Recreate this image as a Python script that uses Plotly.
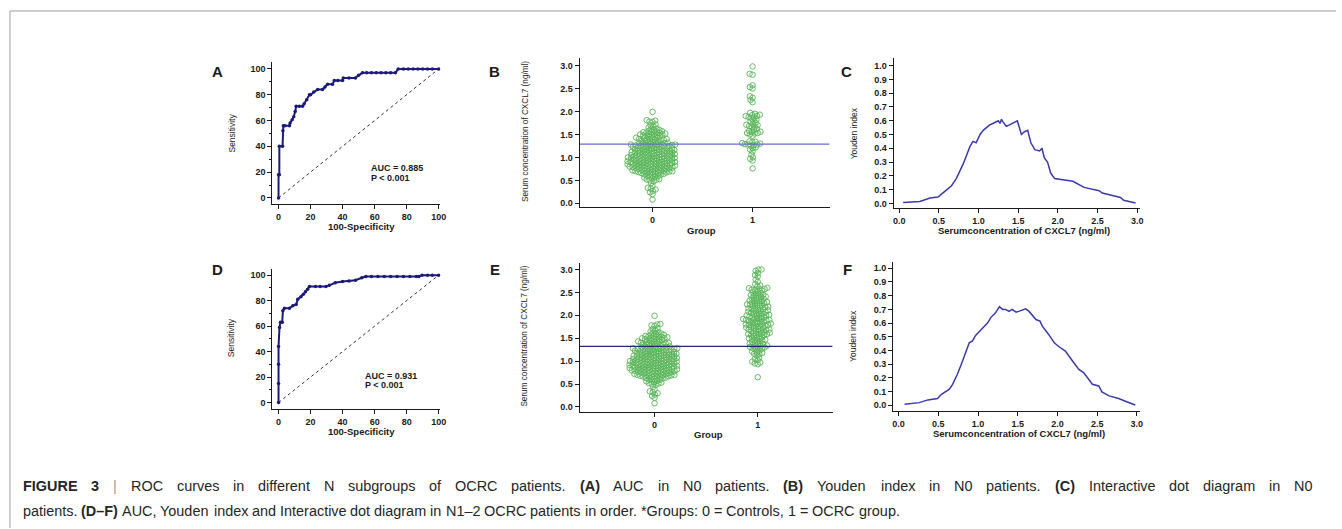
import plotly.graph_objects as go

W, H = 1342, 529

# ---------------- DATA ----------------
# ROC curve, N0 patients (panel A)
roc_a_fpr = [0, 0, 0.5, 0.5, 2.5, 2.7, 3, 4, 6.8, 7.2, 8.5, 9.5, 10.4, 11, 13, 15, 16, 17.6, 19.3, 20,
             22, 24.4, 27.5, 29, 30.6, 33.7, 34.8, 37, 40, 40.4, 44, 48, 50, 52.4, 55, 58, 61, 64,
             67, 70, 73, 74.7, 78, 81, 84, 87, 90, 93, 96, 100]
roc_a_tpr = [0, 18, 18, 40, 40, 52, 56, 56, 56, 58, 60.6, 63, 67, 71, 71, 71, 73, 76, 80, 80,
             82, 84, 84, 86, 88, 88, 91, 91, 91, 93, 93, 93, 95, 97, 97, 97, 97, 97,
             97, 97, 97, 100, 100, 100, 100, 100, 100, 100, 100, 100]
auc_a = "AUC = 0.885"
p_a = "P < 0.001"

# ROC curve, N1-2 patients (panel D)
roc_d_fpr = [0, 0, 0, 0, 0.6, 1.2, 2.3, 2.7, 3.7, 6.8, 8.9, 11, 12, 14, 15.5, 16.8, 18.2, 19.3, 23, 26,
             29.6, 31.7, 35.4, 40, 44, 48, 52, 54.5, 58, 62, 66, 70, 74, 78, 82, 86, 87.6,
             89.6, 93, 96, 100]
roc_d_tpr = [0, 15, 30, 44, 59, 63, 63, 72, 74, 74, 76, 77, 81, 83, 85, 87, 89, 91, 91, 91,
             91, 92, 94, 95, 95.5, 96, 98, 99, 99, 99, 99, 99, 99, 99, 99, 99, 99,
             100, 100, 100, 100]
auc_d = "AUC = 0.931"
p_d = "P < 0.001"

# Serum CXCL7 (ng/ml), controls (group 0)
controls = [
    0.08, 0.20, 0.24, 0.27, 0.30, 0.32, 0.34, 0.38, 0.44,
    0.48, 0.50, 0.51, 0.52, 0.53, 0.54,
    0.56, 0.57, 0.58, 0.59, 0.60, 0.61, 0.62, 0.63, 0.64, 0.64,
    0.65, 0.66, 0.66, 0.67, 0.67, 0.68, 0.68, 0.69, 0.69, 0.70, 0.70, 0.70, 0.71, 0.71, 0.72, 0.72,
    0.73, 0.73, 0.74, 0.74, 0.75, 0.75,
    0.76, 0.76, 0.77, 0.77, 0.78, 0.78, 0.78, 0.79, 0.79, 0.80, 0.80, 0.80, 0.81, 0.81, 0.82, 0.82,
    0.82, 0.83, 0.83, 0.84, 0.84, 0.85, 0.85, 0.85,
    0.86, 0.86, 0.87, 0.87, 0.88, 0.88, 0.88, 0.89, 0.89, 0.90, 0.90, 0.90, 0.91, 0.91, 0.92, 0.92,
    0.92, 0.93, 0.93, 0.94, 0.94, 0.95, 0.95, 0.95,
    0.96, 0.96, 0.97, 0.97, 0.98, 0.98, 0.98, 0.99, 0.99, 1.00, 1.00, 1.00, 1.01, 1.01, 1.02, 1.02,
    1.02, 1.03, 1.03, 1.04, 1.04, 1.05, 1.05, 1.05,
    1.06, 1.06, 1.07, 1.07, 1.08, 1.08, 1.09, 1.09, 1.10, 1.10, 1.10, 1.11, 1.11, 1.12, 1.12, 1.13,
    1.13, 1.14, 1.14, 1.15, 1.15, 1.15,
    1.16, 1.16, 1.17, 1.17, 1.18, 1.18, 1.19, 1.19, 1.20, 1.20, 1.21, 1.21, 1.22, 1.22, 1.23, 1.23,
    1.24, 1.24, 1.25, 1.25,
    1.26, 1.26, 1.27, 1.27, 1.27, 1.28, 1.28, 1.29, 1.29, 1.30, 1.30, 1.31, 1.31, 1.32, 1.32, 1.33,
    1.34, 1.35,
    1.36, 1.36, 1.37, 1.38, 1.38, 1.39, 1.40, 1.40, 1.41, 1.42, 1.42, 1.43, 1.44, 1.45,
    1.46, 1.47, 1.48, 1.48, 1.49, 1.50, 1.50, 1.51, 1.52, 1.52, 1.53, 1.54, 1.55, 1.55,
    1.56, 1.57, 1.58, 1.59, 1.60, 1.62, 1.63, 1.65,
    1.67, 1.70, 1.72, 1.77, 1.78, 1.80, 1.81, 1.99]

# Serum CXCL7 (ng/ml), N0 OCRC patients (group 1, panel B)
ocrc_n0 = [0.76, 0.93, 0.97, 1.00, 1.06, 1.13, 1.17, 1.20, 1.22, 1.25, 1.27, 1.28, 1.28, 1.29, 1.30,
           1.31, 1.33, 1.34, 1.35, 1.47, 1.50, 1.52, 1.53, 1.53, 1.55, 1.56, 1.58, 1.60, 1.62, 1.65,
           1.67, 1.68, 1.70, 1.71, 1.73, 1.75, 1.78, 1.80, 1.82, 1.85, 1.87, 1.88, 1.90, 1.90, 1.92,
           1.93, 1.95, 1.97, 2.20, 2.25, 2.30, 2.33, 2.50, 2.53, 2.57, 2.80, 2.82, 2.98]

# Serum CXCL7 (ng/ml), N1-2 OCRC patients (group 1, panel E)
ocrc_n12 = [
    0.65, 0.93, 0.95, 0.97, 0.99, 1.02, 1.05, 1.08, 1.12, 1.15, 1.16, 1.18, 1.19,
    1.21, 1.23, 1.25, 1.27, 1.28, 1.29,
    1.30, 1.31, 1.32, 1.33, 1.34, 1.35, 1.36, 1.37, 1.38, 1.39,
    1.40, 1.42, 1.43, 1.45, 1.46, 1.47, 1.48, 1.49,
    1.50, 1.51, 1.52, 1.54, 1.55, 1.56, 1.57, 1.58, 1.59, 1.59,
    1.60, 1.61, 1.62, 1.63, 1.64, 1.65, 1.66, 1.67, 1.68, 1.69, 1.69, 1.70,
    1.71, 1.72, 1.73, 1.74, 1.75, 1.76, 1.77, 1.78, 1.79, 1.79, 1.80, 1.80,
    1.81, 1.82, 1.83, 1.84, 1.85, 1.86, 1.87, 1.88, 1.89, 1.89, 1.90, 1.90, 1.91, 1.92,
    1.93, 1.94, 1.95, 1.96, 1.97, 1.98, 1.99, 2.00, 2.00, 2.01, 2.02, 2.03, 2.04, 2.05,
    2.06, 2.07, 2.08, 2.09, 2.10, 2.11, 2.12, 2.13, 2.14, 2.15, 2.16, 2.17,
    2.18, 2.19, 2.20, 2.21, 2.22, 2.23, 2.24, 2.25, 2.26, 2.27, 2.28,
    2.29, 2.30, 2.31, 2.32, 2.33, 2.35, 2.36, 2.37, 2.38, 2.40,
    2.41, 2.42, 2.43, 2.44, 2.45, 2.47, 2.48, 2.50,
    2.52, 2.54, 2.55, 2.56, 2.57, 2.58, 2.59, 2.60,
    2.63, 2.65, 2.68, 2.73, 2.78, 2.85, 2.88, 2.92, 2.97, 3.00, 3.00]

cutoff_n0 = 1.29
cutoff_n12 = 1.32

# Youden index vs. CXCL7 concentration, N0 (panel C)
youden_c_x = [0.05, 0.26, 0.39, 0.49, 0.56, 0.66, 0.72, 0.77, 0.81, 0.85, 0.89, 0.93, 0.97, 1.02,
              1.06, 1.10, 1.14, 1.18, 1.22, 1.25, 1.27, 1.29, 1.31, 1.35, 1.39, 1.43, 1.49, 1.54,
              1.58, 1.62, 1.66, 1.71, 1.77, 1.80, 1.83, 1.87, 1.91, 1.96, 2.10, 2.19, 2.33, 2.52,
              2.56, 2.73, 2.79, 2.83, 2.98]
youden_c_y = [0.007, 0.014, 0.039, 0.046, 0.08, 0.128, 0.18, 0.24, 0.29, 0.35, 0.41, 0.45, 0.44, 0.50,
              0.53, 0.55, 0.57, 0.58, 0.59, 0.60, 0.58, 0.61, 0.59, 0.56, 0.57, 0.58, 0.60, 0.50,
              0.52, 0.53, 0.44, 0.39, 0.38, 0.40, 0.33, 0.30, 0.22, 0.18, 0.17, 0.16, 0.116, 0.092,
              0.075, 0.05, 0.043, 0.022, 0.003]

# Youden index vs. CXCL7 concentration, N1-2 (panel F)
youden_f_x = [0.075, 0.26, 0.37, 0.49, 0.54, 0.64, 0.68, 0.74, 0.79, 0.82, 0.86, 0.89, 0.93, 0.97,
              1.02, 1.08, 1.12, 1.16, 1.22, 1.27, 1.31, 1.35, 1.39, 1.43, 1.48, 1.52, 1.56, 1.60,
              1.64, 1.73, 1.78, 1.81, 1.89, 1.96, 2.02, 2.10, 2.19, 2.27, 2.33, 2.44, 2.52, 2.56,
              2.65, 2.77, 2.88, 2.98]
youden_f_y = [0.007, 0.019, 0.039, 0.049, 0.08, 0.117, 0.153, 0.226, 0.30, 0.35, 0.42, 0.456, 0.47, 0.51,
              0.54, 0.58, 0.60, 0.64, 0.675, 0.72, 0.70, 0.70, 0.686, 0.70, 0.68, 0.687, 0.694, 0.704,
              0.687, 0.626, 0.614, 0.578, 0.517, 0.456, 0.427, 0.396, 0.323, 0.262, 0.238, 0.153, 0.141, 0.097,
              0.068, 0.049, 0.024, 0.002]

roc_ticks = [0, 20, 40, 60, 80, 100]
conc_ticks = [0.0, 0.5, 1.0, 1.5, 2.0, 2.5, 3.0]
youden_ticks = [0.0, 0.1, 0.2, 0.3, 0.4, 0.5, 0.6, 0.7, 0.8, 0.9, 1.0]
group_ticks = [0, 1]
group_labels = ["0", "1"]

# caption words (text, bold?) — first line is justified in the reference
caption_line1 = [("FIGURE", 1), ("3", 1), ("|", 0), ("ROC", 0), ("curves", 0), ("in", 0),
                 ("different", 0), ("N", 0), ("subgroups", 0), ("of", 0), ("OCRC", 0),
                 ("patients.", 0), ("(A)", 1), ("AUC", 0), ("in", 0), ("N0", 0), ("patients.", 0),
                 ("(B)", 1), ("Youden", 0), ("index", 0), ("in", 0), ("N0", 0), ("patients.", 0),
                 ("(C)", 1), ("Interactive", 0), ("dot", 0), ("diagram", 0), ("in", 0), ("N0", 0)]
caption_line2 = [("patients.", 0), ("(D–F)", 1), ("AUC,", 0), ("Youden", 0), ("index", 0), ("and", 0),
                 ("Interactive", 0), ("dot", 0), ("diagram", 0), ("in", 0), ("N1–2", 0), ("OCRC", 0),
                 ("patients", 0), ("in", 0), ("order.", 0), ("*Groups:", 0), ("0", 0), ("=", 0),
                 ("Controls,", 0), ("1", 0), ("=", 0), ("OCRC", 0), ("group.", 0)]

# ---------------- STYLE ----------------
NAVY = "#1c1c78"
YLINE = "#3a3aa8"
GREEN = "#56b356"
INK = "#1a1a1a"
FONT = "Liberation Sans, Arial, sans-serif"

# Arial / Liberation Sans advance widths (1/1000 em) for text layout of the caption
_REG = {' ': 278, '(': 333, ')': 333, '*': 389, ',': 278, '-': 333, '.': 278, '/': 278, ':': 278,
        '=': 584, '|': 260, '–': 556,
        'A': 667, 'B': 667, 'C': 722, 'D': 722, 'E': 667, 'F': 611, 'G': 778, 'H': 722, 'I': 278,
        'J': 500, 'K': 667, 'L': 556, 'M': 833, 'N': 722, 'O': 778, 'P': 667, 'Q': 778, 'R': 722,
        'S': 667, 'T': 611, 'U': 722, 'V': 667, 'W': 944, 'X': 667, 'Y': 667, 'Z': 611,
        'a': 556, 'b': 556, 'c': 500, 'd': 556, 'e': 556, 'f': 278, 'g': 556, 'h': 556, 'i': 222,
        'j': 222, 'k': 500, 'l': 222, 'm': 833, 'n': 556, 'o': 556, 'p': 556, 'q': 556, 'r': 333,
        's': 500, 't': 278, 'u': 556, 'v': 500, 'w': 722, 'x': 500, 'y': 500, 'z': 500}
_BOLD = dict(_REG)
_BOLD.update({'A': 722, 'B': 722, 'J': 556, 'K': 722, 'L': 611, 'R': 722, '|': 280,
              'b': 611, 'c': 556, 'd': 611, 'f': 333, 'g': 611, 'h': 611, 'i': 278, 'j': 278,
              'k': 556, 'l': 278, 'm': 889, 'n': 611, 'o': 611, 'p': 611, 'q': 611, 'r': 389,
              's': 556, 't': 333, 'u': 611, 'v': 556, 'w': 778, 'x': 556, 'y': 556})
for _d in range(10):
    _REG[str(_d)] = 556
    _BOLD[str(_d)] = 556


def em_width(s, bold=False):
    tab = _BOLD if bold else _REG
    return sum(tab.get(ch, 556) for ch in s) / 1000.0


def swarm(values, px_per_x, px_per_y, dmin):
    """Deterministic beeswarm offsets (in x data units)."""
    order = sorted(range(len(values)), key=lambda i: values[i])
    placed = []
    offs = [0.0] * len(values)
    for i in order:
        y = values[i] * px_per_y
        near = [(px, py) for (px, py) in placed if abs(y - py) < dmin]
        cands = [0.0]
        for px, py in near:
            dx = (dmin ** 2 - (y - py) ** 2) ** 0.5
            cands += [px + dx, px - dx]
        cands.sort(key=lambda c: (abs(c), c))
        chosen = 0.0
        for c in cands:
            if all((c - px) ** 2 + (y - py) ** 2 >= dmin ** 2 - 1e-6 for px, py in near):
                chosen = c
                break
        placed.append((chosen, y))
        offs[i] = chosen / px_per_x
    return offs


fig = go.Figure()

# panel boxes in pixels: (left, right, top, bottom), x range, y range
panels = {
    "A": dict(px=(272.7, 441.7, 62.3, 204.3), xr=[-3.91, 101.06], yr=[-4.64, 105.2]),
    "B": dict(px=(581.7, 833.0, 58.3, 207.7), xr=[-0.728, 1.77], yr=[-0.087, 3.16]),
    "C": dict(px=(897.3, 1145.0, 58.3, 208.3), xr=[-0.070, 3.036], yr=[-0.033, 1.054]),
    "D": dict(px=(272.7, 441.7, 269.3, 410.0), xr=[-3.91, 101.06], yr=[-5.25, 105.0]),
    "E": dict(px=(581.7, 836.0, 263.3, 412.7), xr=[-0.726, 1.726], yr=[-0.109, 3.146]),
    "F": dict(px=(896.7, 1145.0, 262.7, 411.7), xr=[-0.070, 3.04], yr=[-0.0415, 1.0445]),
}
names = ["A", "B", "C", "D", "E", "F"]

layout = dict(width=W, height=H, margin=dict(l=0, r=0, t=0, b=0),
              paper_bgcolor="white", plot_bgcolor="white", showlegend=False)

tickfont = dict(family=FONT, size=9, color=INK, weight="bold")
for k, nm in enumerate(names, start=1):
    p = panels[nm]
    l, r, t, b = p["px"]
    xa = dict(domain=[l / W, r / W], range=p["xr"], showline=True, linecolor=INK, linewidth=1,
              ticks="outside", ticklen=4, tickwidth=1, tickcolor=INK, showgrid=False,
              zeroline=False, tickfont=tickfont, anchor=f"y{k}", fixedrange=True)
    ya = dict(domain=[1 - b / H, 1 - t / H], range=p["yr"], showline=True, linecolor=INK,
              linewidth=1, ticks="outside", ticklen=4, tickwidth=1, tickcolor=INK,
              showgrid=False, zeroline=False, tickfont=tickfont, anchor=f"x{k}", fixedrange=True)
    if nm in ("A", "D"):
        xa.update(tickvals=roc_ticks)
        ya.update(tickvals=roc_ticks, minor=dict(dtick=10, ticklen=2, tickcolor=INK, ticks="outside"))
    elif nm in ("B", "E"):
        xa.update(tickvals=group_ticks, ticktext=group_labels)
        ya.update(tickvals=conc_ticks, tickformat=".1f")
    else:
        xa.update(tickvals=conc_ticks, tickformat=".1f")
        ya.update(tickvals=youden_ticks, tickformat=".1f")
    layout[f"xaxis{k}" if k > 1 else "xaxis"] = xa
    layout[f"yaxis{k}" if k > 1 else "yaxis"] = ya


def axref(k):
    return ("x" if k == 1 else f"x{k}"), ("y" if k == 1 else f"y{k}")


# ROC panels
for k, fpr, tpr in [(1, roc_a_fpr, roc_a_tpr), (4, roc_d_fpr, roc_d_tpr)]:
    xr, yr = axref(k)
    fig.add_trace(go.Scatter(x=[0, 100], y=[0, 100], mode="lines", xaxis=xr, yaxis=yr,
                             line=dict(color="#333", width=1, dash="dot")))
    fig.add_trace(go.Scatter(x=fpr, y=tpr, mode="lines+markers", xaxis=xr, yaxis=yr,
                             line=dict(color=NAVY, width=2, shape="linear"),
                             marker=dict(color=NAVY, size=3.5)))

# dot diagrams
for k, grp1, cut, linecol in [(2, ocrc_n0, cutoff_n0, "#6a6ad0"), (5, ocrc_n12, cutoff_n12, "#26267e")]:
    xr, yr = axref(k)
    nm = names[k - 1]
    p = panels[nm]
    l, r, t, b = p["px"]
    pxx = (r - l) / (p["xr"][1] - p["xr"][0])
    pxy = (b - t) / (p["yr"][1] - p["yr"][0])
    for g, vals in [(0, controls), (1, grp1)]:
        offs = swarm(vals, pxx, pxy, 3.1)
        fig.add_trace(go.Scatter(x=[g + o for o in offs], y=vals, mode="markers", xaxis=xr, yaxis=yr,
                                 marker=dict(symbol="circle-open", size=5.5, color=GREEN,
                                             line=dict(width=0.9, color=GREEN))))
    fig.add_trace(go.Scatter(x=[p["xr"][0], p["xr"][1]], y=[cut, cut], mode="lines", xaxis=xr, yaxis=yr,
                             line=dict(color=linecol, width=1.3)))

# Youden panels
for k, xs, ys in [(3, youden_c_x, youden_c_y), (6, youden_f_x, youden_f_y)]:
    xr, yr = axref(k)
    fig.add_trace(go.Scatter(x=xs, y=ys, mode="lines", xaxis=xr, yaxis=yr,
                             line=dict(color=YLINE, width=1.5)))

ann = []


def txt(x, y, s, size=9, bold=False, xanchor="center", angle=0, color=INK, family=FONT):
    ann.append(dict(x=x / W, y=1 - y / H, xref="paper", yref="paper", text=s, showarrow=False,
                    xanchor=xanchor, yanchor="middle", textangle=angle, borderpad=0, borderwidth=0,
                    font=dict(family=family, size=size, color=color,
                              weight="bold" if bold else "normal")))


# panel letters
for s, x, y in [("A", 218, 72), ("B", 496, 72), ("C", 850, 72),
                ("D", 218, 270), ("E", 497, 270), ("F", 851, 270)]:
    txt(x, y, s, size=15, bold=True)

# axis titles
txt(362, 227, "100-Specificity", size=9.5, bold=True)
txt(232, 133, "Sensitivity", size=8.5, angle=-90)
txt(362, 432, "100-Specificity", size=9.5, bold=True)
txt(232, 338, "Sensitivity", size=8.5, angle=-90)
txt(704, 231, "Group", size=9.5, bold=True)
txt(711, 435, "Group", size=9.5, bold=True)
txt(528, 132, "Serum concentration of CXCL7 (ng/ml)", size=8.2, angle=-90)
txt(526, 337, "Serum concentration of CXCL7 (ng/ml)", size=8.2, angle=-90)
txt(1028, 231, "Serumconcentration of CXCL7 (ng/ml)", size=9.5, bold=True)
txt(1023, 434, "Serumconcentration of CXCL7 (ng/ml)", size=9.5, bold=True)
txt(857, 134, "Youden index", size=8.5, angle=-90)
txt(857, 337, "Youden index", size=8.5, angle=-90)

# AUC annotations
txt(372, 168, auc_a, size=9, bold=True, xanchor="left")
txt(372, 178, p_a, size=9, bold=True, xanchor="left")
txt(366, 377, auc_d, size=9, bold=True, xanchor="left")
txt(366, 386, p_d, size=9, bold=True, xanchor="left")

# caption: font size chosen so the (ragged) second line spans the reference width
CAP_L, CAP_R1, CAP_R2 = 22.0, 1318.0, 903.0
CAPC = "#262626"
space_em = _REG[' '] / 1000.0
line2_em = sum(em_width(w, b) for w, b in caption_line2) + space_em * (len(caption_line2) - 1)
cap_size = (CAP_R2 - CAP_L) / line2_em


def place_words(words, y, right=None):
    widths = [em_width(w, b) * cap_size for w, b in words]
    gap = space_em * cap_size
    if right is not None:
        gap = (right - CAP_L - sum(widths)) / (len(words) - 1)
    x = CAP_L
    for (w, b), wd in zip(words, widths):
        col = "#9a9a9a" if w == "|" else CAPC
        txt(x, y, w, size=cap_size, bold=bool(b), xanchor="left", color=col, family=FONT)
        x += wd + gap


place_words(caption_line1, 487, right=CAP_R1)
place_words(caption_line2, 512)

layout["annotations"] = ann
layout["shapes"] = [
    dict(type="line", xref="paper", yref="paper", x0=9 / W, x1=1, y0=1 - 11 / H, y1=1 - 11 / H,
         line=dict(color="#bdbdbd", width=1.5)),
    dict(type="line", xref="paper", yref="paper", x0=9 / W, x1=9 / W, y0=0, y1=1 - 11 / H,
         line=dict(color="#bdbdbd", width=1.5)),
]
fig.update_layout(**layout)
fig.write_html("out.html")
